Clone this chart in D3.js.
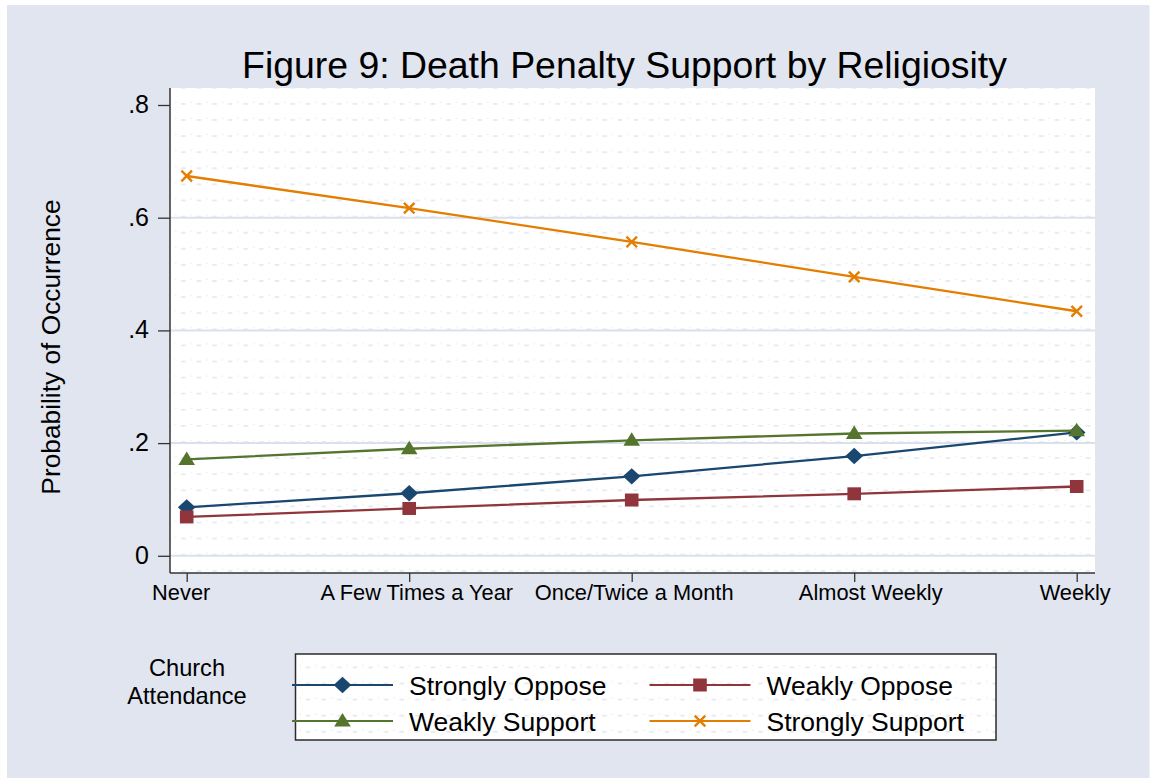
<!DOCTYPE html>
<html>
<head>
<meta charset="utf-8">
<script src="https://cdn.jsdelivr.net/npm/d3@7"></script>
<style>
  html, body { margin: 0; padding: 0; background: #ffffff; }
  svg { display: block; }
  text { font-family: "Liberation Sans", Arial, Helvetica, sans-serif; fill: #000; }
</style>
</head>
<body>
<svg id="chart" width="1150" height="778"></svg>
<script>
// ---- Data ----
const categories = ["Never", "A Few Times a Year", "Once/Twice a Month", "Almost Weekly", "Weekly"];
const stronglyOppose  = [0.086, 0.111, 0.141, 0.177, 0.219];
const weaklyOppose    = [0.069, 0.084, 0.099, 0.110, 0.123];
const weaklySupport   = [0.171, 0.190, 0.205, 0.217, 0.222];
const stronglySupport = [0.674, 0.617, 0.557, 0.495, 0.434];
const seriesNames = ["Strongly Oppose", "Weakly Oppose", "Weakly Support", "Strongly Support"];
const yTicks = [0, 0.2, 0.4, 0.6, 0.8];
const yTickLabels = ["0", ".2", ".4", ".6", ".8"];
const titleText = "Figure 9: Death Penalty Support by Religiosity";
const yTitle = "Probability of Occurrence";
const legendTitle = ["Church", "Attendance"];

const series = [
  { name: seriesNames[0], values: stronglyOppose,  color: "#1a476f", marker: "diamond" },
  { name: seriesNames[1], values: weaklyOppose,    color: "#90353b", marker: "square" },
  { name: seriesNames[2], values: weaklySupport,   color: "#55752f", marker: "triangle" },
  { name: seriesNames[3], values: stronglySupport, color: "#e37e00", marker: "x" }
];

// ---- Layout ----
const svg = d3.select("#chart");
const bg = "#e0e5ef";
const plot = { left: 170, right: 1095, top: 88, bottom: 573 };
const xLabelShift = [-6, 7, 2, 16, -2]; // label placement as in the original rendering

const x = d3.scalePoint().domain(categories).range([186.7, 1076.7]);
const y = d3.scaleLinear().domain([0, 0.8]).range([555.8, 105]);

// pattern
const defs = svg.append("defs");
const pat = defs.append("pattern")
  .attr("id", "dots").attr("patternUnits", "userSpaceOnUse")
  .attr("x", 3).attr("y", 3.5).attr("width", 15.6).attr("height", 16.1);
pat.append("rect").attr("x", 0).attr("y", 0).attr("width", 15.6).attr("height", 16.1).attr("fill", "#ffffff");
pat.append("rect").attr("x", 6.5).attr("y", 3).attr("width", 4.5).attr("height", 1.6).attr("fill", "#e2e7f1");
pat.append("rect").attr("x", 0.5).attr("y", 1.6).attr("width", 1.2).attr("height", 1.2).attr("fill", "#e6e6e6");

// outer background
svg.append("rect").attr("x", 7).attr("y", 5).attr("width", 1142.5).attr("height", 773).attr("fill", bg);

// plot region
svg.append("rect")
  .attr("x", plot.left).attr("y", plot.top)
  .attr("width", plot.right - plot.left).attr("height", plot.bottom - plot.top)
  .attr("fill", "url(#dots)");

// gridlines
svg.append("g").selectAll("line")
  .data(yTicks.filter(d => d < 0.8))
  .join("line")
  .attr("x1", plot.left).attr("x2", plot.right)
  .attr("y1", d => y(d)).attr("y2", d => y(d))
  .attr("stroke", "#dbe1ec").attr("stroke-width", 2);

// axes
const axisColor = "#333333";
const yAxis = d3.axisLeft(y).tickValues(yTicks).tickSize(12).tickPadding(9)
  .tickFormat((d, i) => yTickLabels[i]);
const gy = svg.append("g").attr("transform", `translate(${plot.left},0)`).call(yAxis);
gy.select(".domain").remove();
gy.selectAll(".tick line").attr("stroke", axisColor).attr("stroke-width", 1.3);
gy.selectAll(".tick text").attr("font-size", 25).attr("font-family", "Liberation Sans, Arial, sans-serif")
  .attr("fill", "#000").attr("dy", "0.30em");

const xAxis = d3.axisBottom(x).tickSize(9).tickPadding(6);
const gx = svg.append("g").attr("transform", `translate(0,${plot.bottom})`).call(xAxis);
gx.select(".domain").remove();
gx.selectAll(".tick line").attr("stroke", axisColor).attr("stroke-width", 1.3);
gx.selectAll(".tick text").attr("font-size", 21.8).attr("font-family", "Liberation Sans, Arial, sans-serif")
  .attr("fill", "#000").attr("y", 12).attr("dy", "0.71em")
  .attr("dx", (d, i) => xLabelShift[i]);

svg.append("line").attr("x1", plot.left).attr("x2", plot.left)
  .attr("y1", plot.top).attr("y2", plot.bottom).attr("stroke", axisColor).attr("stroke-width", 1.5);
svg.append("line").attr("x1", plot.left).attr("x2", plot.right)
  .attr("y1", plot.bottom).attr("y2", plot.bottom).attr("stroke", axisColor).attr("stroke-width", 1.5);

// markers
function drawMarker(g, type, cx, cy, color, s) {
  s = s || 1;
  if (type === "diamond") {
    g.append("path").attr("d", `M${cx},${cy - 8.2 * s}L${cx + 8.8 * s},${cy}L${cx},${cy + 8.2 * s}L${cx - 8.8 * s},${cy}Z`).attr("fill", color);
  } else if (type === "square") {
    g.append("rect").attr("x", cx - 6.8 * s).attr("y", cy - 6.5 * s).attr("width", 13.6 * s).attr("height", 13 * s).attr("fill", color);
  } else if (type === "triangle") {
    g.append("path").attr("d", `M${cx},${cy - 8 * s}L${cx + 8.3 * s},${cy + 5.5 * s}L${cx - 8.3 * s},${cy + 5.5 * s}Z`).attr("fill", color);
  } else if (type === "x") {
    const r = 5.3 * s;
    g.append("path").attr("d", `M${cx - r},${cy - r}L${cx + r},${cy + r}M${cx - r},${cy + r}L${cx + r},${cy - r}`)
      .attr("stroke", color).attr("stroke-width", 2.4).attr("fill", "none");
  }
}

const line = d3.line().x((d, i) => x(categories[i])).y(d => y(d));
series.forEach(s => {
  const g = svg.append("g");
  g.append("path").attr("d", line(s.values)).attr("fill", "none")
    .attr("stroke", s.color).attr("stroke-width", 2.3);
  s.values.forEach((v, i) => drawMarker(g, s.marker, x(categories[i]), y(v), s.color));
});

// title
svg.append("text").attr("x", 624.5).attr("y", 78).attr("text-anchor", "middle")
  .attr("font-size", 37.4).text(titleText);

// y title
svg.append("text").attr("transform", "translate(60,347) rotate(-90)")
  .attr("text-anchor", "middle").attr("font-size", 26.3).text(yTitle);

// legend
const lg = svg.append("g");
lg.append("rect").attr("x", 295.5).attr("y", 654).attr("width", 700.5).attr("height", 86)
  .attr("fill", "url(#dots)").attr("stroke", "#2b2b2b").attr("stroke-width", 1.5);
legendTitle.forEach((t, i) => {
  lg.append("text").attr("x", 187).attr("y", 676 + i * 27.5).attr("text-anchor", "middle")
    .attr("font-size", 23.6).text(t);
});
const legendOrder = [0, 1, 2, 3];
const colX = [292, 649.5];
const rowY = [685, 721];
legendOrder.forEach((si, k) => {
  const s = series[si];
  const cx = colX[k % 2], cy = rowY[Math.floor(k / 2)];
  const g = lg.append("g");
  g.append("line").attr("x1", cx).attr("x2", cx + 101).attr("y1", cy).attr("y2", cy)
    .attr("stroke", s.color).attr("stroke-width", 2.2);
  drawMarker(g, s.marker, cx + 50.5, cy, s.color);
  g.append("text").attr("x", cx + 117).attr("y", cy + 10).attr("font-size", 26.5).text(s.name);
});
</script>
</body>
</html>
